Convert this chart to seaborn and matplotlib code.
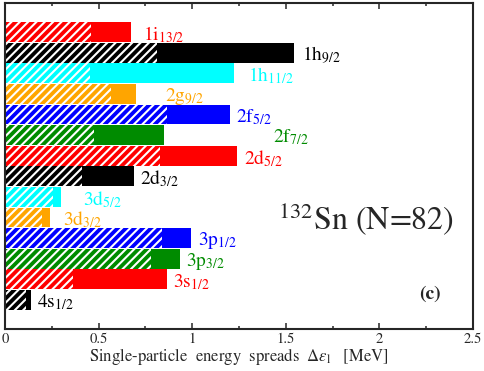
import matplotlib
matplotlib.use("Agg")
import matplotlib.pyplot as plt
import pandas as pd
import seaborn as sns

# ──────────────────────────────────────────────────────────────────────────────
# Data (132Sn, N=82 single-particle levels, top to bottom)
# ──────────────────────────────────────────────────────────────────────────────
levels = ["1i13/2", "1h9/2", "1h11/2", "2g9/2", "2f5/2", "2f7/2", "2d5/2",
          "2d3/2", "3d5/2", "3d3/2", "3p1/2", "3p3/2", "3s1/2", "4s1/2"]
level_labels = [r"1i$_{13/2}$", r"1h$_{9/2}$", r"1h$_{11/2}$", r"2g$_{9/2}$",
                r"2f$_{5/2}$", r"2f$_{7/2}$", r"2d$_{5/2}$", r"2d$_{3/2}$",
                r"3d$_{5/2}$", r"3d$_{3/2}$", r"3p$_{1/2}$", r"3p$_{3/2}$",
                r"3s$_{1/2}$", r"4s$_{1/2}$"]
# total spread (solid bar end) and the hatched inner part [MeV]
spread_total = [0.675, 1.545, 1.225, 0.70, 1.20, 0.85, 1.238,
                0.69, 0.30, 0.238, 0.993, 0.934, 0.863, 0.14]
spread_inner = [0.46, 0.81, 0.455, 0.565, 0.865, 0.475, 0.83,
                0.41, 0.255, 0.20, 0.84, 0.78, 0.362, 0.11]

COLORS = ["#ff0000", "#000000", "#00ffff", "#ffa500", "#0000ff", "#008b00", "#ff0000",
          "#000000", "#00ffff", "#ffa500", "#0000ff", "#008b00", "#ff0000", "#000000"]
# where each level label starts (x, in MeV)
LABEL_X = [0.736, 1.587, 1.298, 0.854, 1.234, 1.432, 1.277,
           0.72, 0.415, 0.308, 1.03, 0.966, 0.897, 0.169]

sns.set_style("ticks")
plt.rcParams["font.family"] = ["STIXGeneral", "DejaVu Serif"]
plt.rcParams["mathtext.fontset"] = "stix"
plt.rcParams["hatch.linewidth"] = 1.5

df = pd.DataFrame({"level": levels, "total": spread_total, "inner": spread_inner})
palette = dict(zip(levels, COLORS))

fig = plt.figure(figsize=(4.85, 3.71), dpi=100)
ax = fig.add_axes([5 / 485, 1 - 329 / 371, 468 / 485, 326 / 371])

sns.barplot(data=df, x="total", y="level", hue="level", palette=palette,
            order=levels, hue_order=levels, legend=False, width=0.96,
            saturation=1, linewidth=0, ax=ax)
n_solid = len(ax.patches)
sns.barplot(data=df, x="inner", y="level", hue="level", palette=palette,
            order=levels, hue_order=levels, legend=False, width=0.96,
            saturation=1, linewidth=0, ax=ax)
for p in ax.patches[n_solid:]:
    p.set_hatch("////")
    p.set_edgecolor("white")
    p.set_linewidth(0)

for i, (lab, lx, c) in enumerate(zip(level_labels, LABEL_X, COLORS)):
    ax.text(lx, i + 0.12, lab, color=c, fontsize=14, ha="left", va="center")

ax.text(2.40, 9.05, r"$^{132}$Sn (N=82)", fontsize=23, ha="right", va="center")
ax.text(2.27, 12.72, "(c)", fontsize=14, fontweight="bold", ha="center", va="center")

ax.set_xlim(0, 2.5)
ax.set_ylim(13 + 1.41, -1.41)
ax.set_xticks([0, 0.5, 1, 1.5, 2, 2.5])
ax.set_xticklabels(["0", "0.5", "1", "1.5", "2", "2.5"])
ax.set_xticks([0.25, 0.75, 1.25, 1.75, 2.25], minor=True)
ax.set_yticks([])
ax.set_ylabel("")
ax.set_xlabel(r"Single-particle  energy  spreads  $\Delta\varepsilon_{\rm l}$   [MeV]",
              fontsize=12, labelpad=0)
ax.tick_params(axis="x", which="both", direction="in", top=True, labelsize=10.5,
               width=1.1, pad=2.5)
ax.tick_params(axis="x", which="major", length=4)
ax.tick_params(axis="x", which="minor", length=2)
for s in ax.spines.values():
    s.set_visible(True)
    s.set_linewidth(1.5)

fig.savefig("out.png", dpi=100)
